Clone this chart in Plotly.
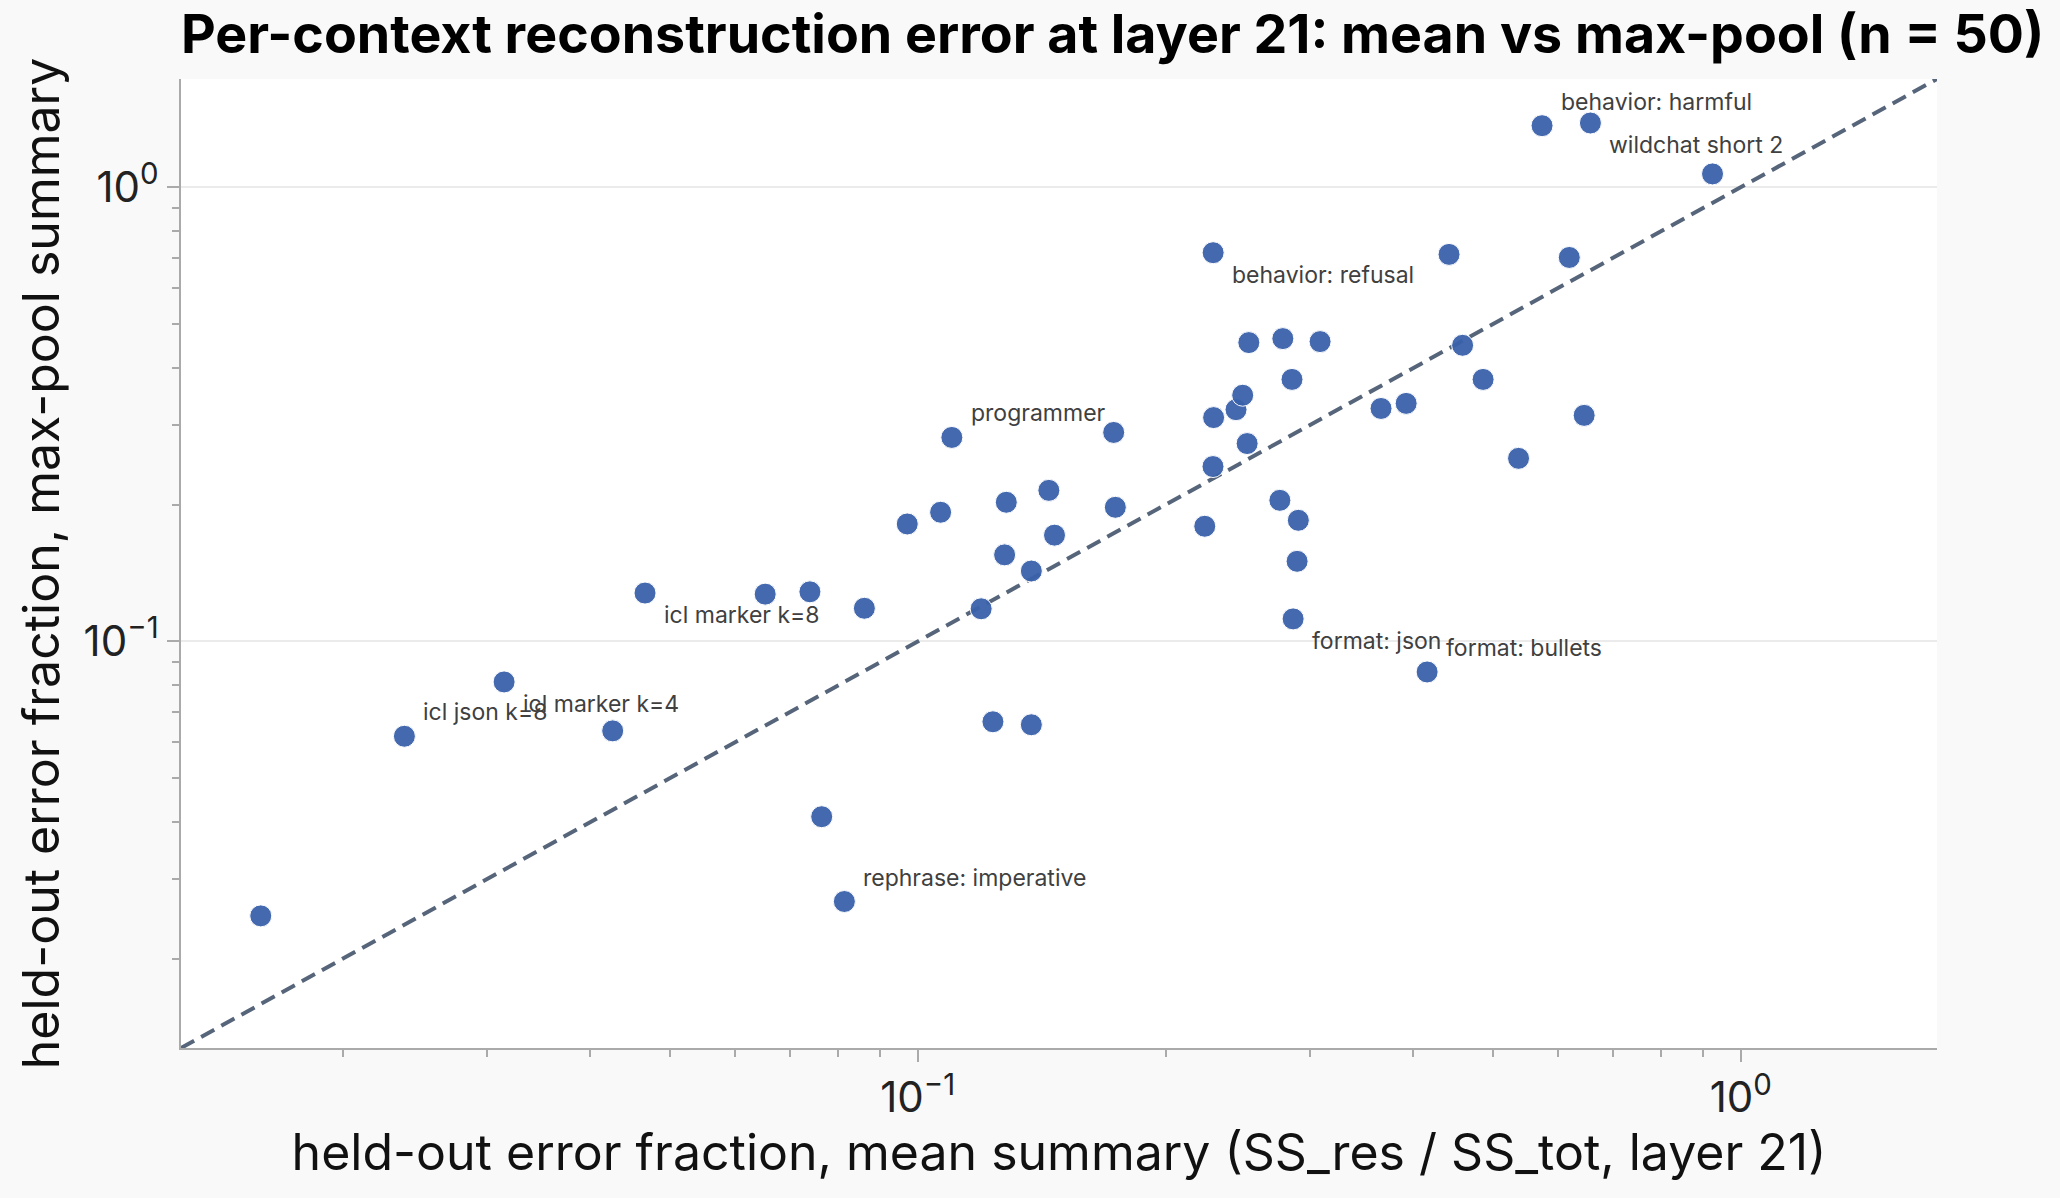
import math
import plotly.graph_objects as go

# held-out error fraction, mean summary (x) and max-pool summary (y)
mean_err = [0.01591, 0.02378, 0.03143, 0.04259, 0.04662, 0.06525, 0.07395, 0.07643, 0.08143, 0.08612,
            0.09710, 0.1066, 0.1100, 0.1194, 0.1234, 0.1275, 0.1281, 0.1374, 0.1374, 0.1443,
            0.1466, 0.1730, 0.1738, 0.2232, 0.2285, 0.2288, 0.2284, 0.2436, 0.2482, 0.2513,
            0.2525, 0.2754, 0.2777, 0.2849, 0.2858, 0.2900, 0.2890, 0.3082, 0.3655, 0.3921,
            0.4158, 0.4421, 0.4592, 0.4863, 0.5370, 0.5735, 0.6189, 0.6452, 0.6566, 0.9240]
maxpool_err = [0.02487, 0.06183, 0.08143, 0.06354, 0.1278, 0.1271, 0.1286, 0.04112, 0.02675, 0.1183,
               0.1814, 0.1925, 0.2813, 0.1180, 0.06654, 0.1551, 0.2025, 0.1429, 0.06554, 0.2151,
               0.1714, 0.2885, 0.1974, 0.1793, 0.7177, 0.3111, 0.2427, 0.3238, 0.3484, 0.2727,
               0.4550, 0.2045, 0.4643, 0.3775, 0.1121, 0.1848, 0.1501, 0.4573, 0.3258, 0.3343,
               0.08565, 0.7116, 0.4488, 0.3775, 0.2530, 1.3665, 0.7006, 0.3146, 1.3852, 1.0701]
labels = ["", "icl json k=8", "icl marker k=4", "", "icl marker k=8", "", "", "", "rephrase: imperative", "",
          "", "", "programmer", "", "", "", "", "", "", "",
          "", "", "", "", "behavior: refusal", "", "", "", "", "",
          "", "", "", "", "format: json", "", "", "", "", "",
          "format: bullets", "", "", "", "", "behavior: harmful", "", "", "wildchat short 2", ""]
# label placement: +1 above the point, -1 below
label_side = {"icl json k=8": 1, "icl marker k=4": -1, "icl marker k=8": -1,
              "rephrase: imperative": 1, "programmer": 1, "behavior: refusal": -1,
              "format: json": -1, "format: bullets": 1, "behavior: harmful": 1,
              "wildchat short 2": -1}

major_ticks = [0.1, 1.0]
major_text = ["10<sup>−1</sup>", "10<sup>0</sup>"]

title = "Per-context reconstruction error at layer 21: mean vs max-pool (n = 50)"
x_title = "held-out error fraction, mean summary (SS_res / SS_tot, layer 21)"
y_title = "held-out error fraction, max-pool summary"

lo = min(min(mean_err), min(maxpool_err)) * 0.8
hi = max(max(mean_err), max(maxpool_err)) * 1.25
rng = [math.log10(lo), math.log10(hi)]
minor_ticks = [m * 10.0 ** e for e in (-2, -1, 0) for m in range(2, 10) if lo <= m * 10.0 ** e <= hi]

FONT = "Inter, Roboto, sans-serif"

fig = go.Figure()
fig.add_trace(go.Scatter(
    x=[lo, hi], y=[lo, hi], mode="lines",
    line=dict(color="#56657a", width=4, dash="15px,8px"),
    hoverinfo="skip", showlegend=False))
fig.add_trace(go.Scatter(
    x=mean_err, y=maxpool_err, mode="markers",
    marker=dict(size=22, color="#3a62ab", opacity=0.95, line=dict(color="white", width=1)),
    text=labels, showlegend=False))

for xv, yv, lab in zip(mean_err, maxpool_err, labels):
    if not lab:
        continue
    fig.add_annotation(x=math.log10(xv), y=math.log10(yv), text=lab, showarrow=False,
                       xanchor="left", yanchor="middle", xshift=17,
                       yshift=24 if label_side[lab] > 0 else -22,
                       font=dict(family=FONT, size=23, color="#404040"))

axis_common = dict(
    type="log", range=rng, tickmode="array", tickvals=major_ticks, ticktext=major_text,
    showline=True, linecolor="#aaaaaa", linewidth=2, mirror=False,
    ticks="outside", ticklen=12, tickwidth=2, tickcolor="#aaaaaa",
    tickfont=dict(family=FONT, size=42, color="#222222"),
    minor=dict(tickmode="array", tickvals=minor_ticks, ticks="outside", ticklen=7, tickwidth=2,
               tickcolor="#aaaaaa", showgrid=False),
    zeroline=False,
)

fig.update_xaxes(**axis_common, showgrid=False,
                 title=dict(text=x_title, font=dict(family=FONT, size=50, color="#111111"), standoff=12))
fig.update_yaxes(**axis_common, showgrid=True, gridcolor="#ebebeb", gridwidth=1.5,
                 title=dict(text=y_title, font=dict(family=FONT, size=50, color="#111111"), standoff=8))

fig.update_layout(
    width=2060, height=1198,
    margin=dict(l=181, r=123, t=79, b=150),
    paper_bgcolor="#f9f9f9", plot_bgcolor="white",
    title=dict(text="<b>" + title + "</b>", x=181 / 2060, xanchor="left", xref="container",
               y=1 - 34 / 1198, yanchor="middle",
               font=dict(family=FONT, size=53.7, color="#000000")),
)

fig.write_html("out.html")
